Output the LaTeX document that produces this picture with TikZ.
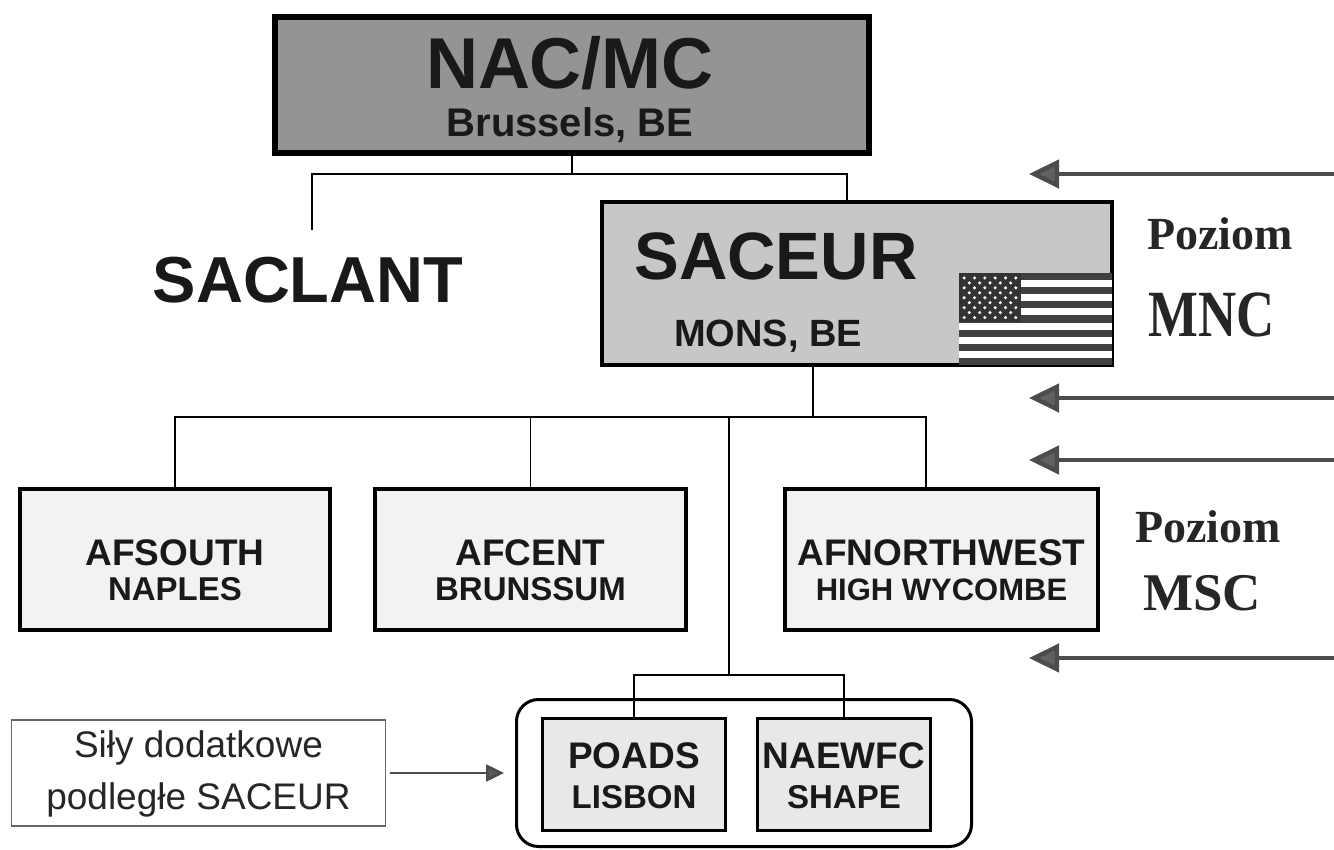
\documentclass[tikz,border=0pt]{standalone}
\usepackage{fontspec}
\setmainfont{Liberation Sans}
\newfontfamily\levelfont{Liberation Serif}
\usetikzlibrary{arrows.meta}
\newcommand{\fsz}[1]{\fontsize{#1}{#1}\selectfont}

\tikzset{
  link/.style={line width=1.4pt,black},
  hqbox/.style={draw=black,line width=6pt,fill=black!42,inner sep=0pt},
  mncbox/.style={draw=black,line width=4pt,fill=black!22,inner sep=0pt},
  mscbox/.style={draw=black,line width=4pt,fill=black!5,inner sep=0pt,minimum width=311pt,minimum height=141pt},
  subbox/.style={draw=black,line width=3pt,fill=black!9,inner sep=0pt,minimum height=112pt},
  txt/.style={inner sep=0pt,anchor=base,font=\bfseries,text=black!90},
  levelarrow/.style={draw=black!70,line width=4.5pt,-{Triangle[length=30pt,width=28pt,fill=black!62]}},
  addarrow/.style={draw=black!70,line width=2.5pt,-{Triangle[length=18pt,width=17pt,fill=black!65]}},
  leveltxt/.style={font=\levelfont\bfseries,text=black!85,inner sep=0pt,anchor=base west}
}

\begin{document}
\begin{tikzpicture}[x=1pt,y=-1pt]
  \fill[white] (0,0) rectangle (1334,850);
  \useasboundingbox (0,0) rectangle (1334,850);

  % top level
  \node[hqbox,minimum width=594pt,minimum height=136pt] (nac) at (572,85) {};
  \node[txt] (nacname) at (570,89) {\fsz{72}NAC/MC};
  \node[txt] (nacplace) at (570,137) {\fsz{40}Brussels, BE};
  \node[txt] (saclant) at (308,303) {\fsz{65}SACLANT};
  \node[mncbox,minimum width=510pt,minimum height=163pt] (saceur) at (857,283.5) {};
  \node[txt] (saceurname) at (776,280) {\fsz{67}SACEUR};
  \node[txt] (saceurplace) at (768,347) {\fsz{38}MONS, BE};

  % flag
  \begin{scope}[shift={(959,273)}]
    \fill[white] (0,0) rectangle (153,92);
    \foreach \s in {0,2,...,12}
      \fill[black!75] (0,\s*92/13) rectangle (153,\s*92/13+92/13);
    \fill[black!80] (0,0) rectangle (62,49.5);
    \foreach \r in {0,2,4,6,8}
      \foreach \c in {0,...,5}
        \fill[white] ({(2*\c+1)*62/12},{(\r+1)*49.5/10}) circle[radius=1.7pt];
    \foreach \r in {1,3,5,7}
      \foreach \c in {0,...,4}
        \fill[white] ({(2*\c+2)*62/12},{(\r+1)*49.5/10}) circle[radius=1.7pt];
  \end{scope}

  % MSC level
  \node[mscbox,minimum width=310pt] (afsouth) at (175,559.5) {};
  \node[mscbox] (afcent) at (530.5,559.5) {};
  \node[mscbox,minimum width=313pt] (afnw) at (941.5,559.5) {};
  \node[txt] (afsouthname) at (afsouth |- 0,565) {\fsz{37}AFSOUTH};
  \node[txt] (afsouthplace) at (afsouth |- 0,600) {\fsz{33}NAPLES};
  \node[txt] (afcentname) at (afcent |- 0,565) {\fsz{37}AFCENT};
  \node[txt] (afcentplace) at (afcent |- 0,600) {\fsz{33}BRUNSSUM};
  \node[txt] (afnwname) at (afnw |- 0,565) {\fsz{37}AFNORTHWEST};
  \node[txt] (afnwplace) at (afnw |- 0,600) {\fsz{31}HIGH WYCOMBE};

  % additional forces
  \node[draw=black,line width=3pt,rounded corners=22pt,minimum width=455pt,minimum height=147pt] (addgroup) at (744,773) {};
  \node[subbox,minimum width=183pt] (poads) at (634,774.5) {};
  \node[subbox,minimum width=173pt] (naewfc) at (844,774.5) {};
  \node[txt] (poadsname) at (poads |- 0,768) {\fsz{37}POADS};
  \node[txt] (poadsplace) at (poads |- 0,808) {\fsz{33}LISBON};
  \node[txt] (naewfcname) at (naewfc |- 0,768) {\fsz{37}NAEWFC};
  \node[txt] (naewfcplace) at (naewfc |- 0,808) {\fsz{33}SHAPE};
  \node[draw=black!60,line width=1.2pt,minimum width=374pt,minimum height=106pt,inner sep=0pt] (sily) at (198.5,773) {};
  \node[txt,font=\mdseries,text=black!85] (silytop) at (sily |- 0,757) {\fsz{37}Siły dodatkowe};
  \node[txt,font=\mdseries,text=black!85] (silybottom) at (sily |- 0,809) {\fsz{37}podległe SACEUR};

  % connectors
  \coordinate (mncbus) at (572,174);
  \coordinate (saclantend) at (312,230);
  \coordinate (saceurdrop) at (847,174);
  \draw[link] (nac.south) -- (mncbus);
  \draw[link] (saclantend) |- (saceurdrop) -- (saceurdrop |- saceur.north);

  \coordinate (mscbus) at (813,417);
  \coordinate (afnwdrop) at (926,417);
  \draw[link] (saceur.south -| mscbus) -- (mscbus);
  \draw[link] (afsouth.north) |- (afnwdrop) -- (afnwdrop |- afnw.north);
  \draw[link] (afcent.north) -- (afcent.north |- mscbus);

  \coordinate (addbus) at (729,675);
  \draw[link] (addbus |- mscbus) -- (addbus);
  \draw[link] (poads.north) |- (addbus) -| (naewfc.north);

  \draw[addarrow,shorten <=4pt,shorten >=11pt] (sily.east) -- (addgroup.west);

  % level labels and arrows
  \node[leveltxt] (mncword) at (1147,250) {\fsz{46}Poziom};
  \node[leveltxt] (mncname) at (1148,337) {\fsz{66}\scalebox{0.8}[1]{MNC}};
  \node[leveltxt] (mscword) at (1135,542) {\fsz{46}Poziom};
  \node[leveltxt] (mscname) at (1143,610) {\fsz{53}MSC};

  \foreach \y [count=\i] in {174,398,460,658}{
    \coordinate (lvltip\i) at (1029,\y);
    \coordinate (lvltail\i) at (1334,\y);
    \draw[levelarrow] (lvltail\i) -- (lvltip\i);
  }
\end{tikzpicture}
\end{document}
